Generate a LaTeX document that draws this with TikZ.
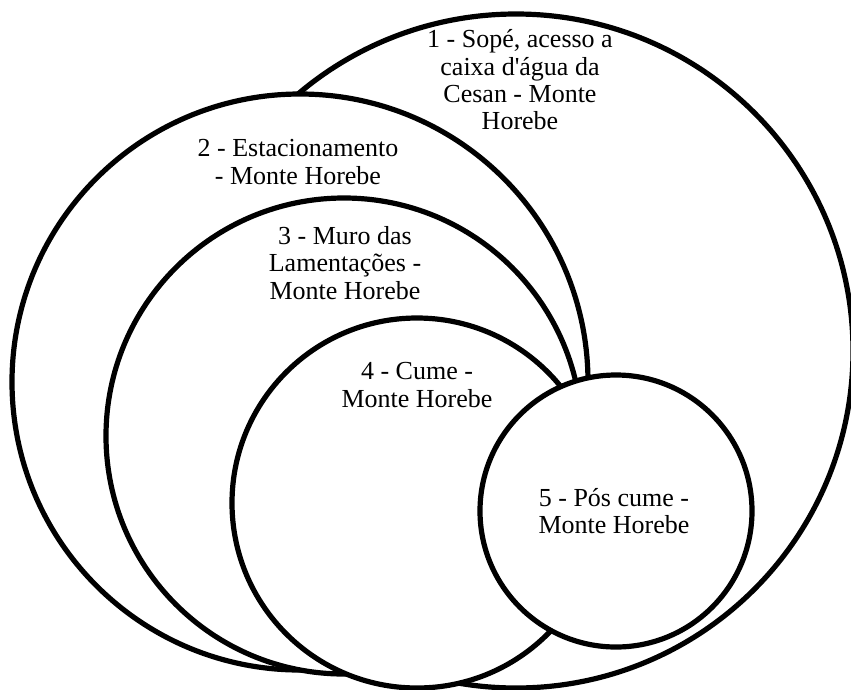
\documentclass[tikz,border=0pt]{standalone}
\usepackage{fontspec}
\setmainfont{Liberation Serif}
\tikzset{
  ring/.style={circle, draw=black, line width=5.2pt, fill=white, inner sep=0pt, outer sep=0pt},
  lbl/.style={align=center, inner sep=0pt, font=\fontsize{26}{27.3}\selectfont}
}
\begin{document}
\begin{tikzpicture}[x=1pt,y=-1pt]
\useasboundingbox (0,0) rectangle (851,689);
\clip (0,0) rectangle (851,689);
\node[ring, minimum size=674pt] (c1) at (516,351) {};
\node[ring, minimum size=576pt] (c2) at (300,382) {};
\node[ring, minimum size=476pt] (c3) at (344,436) {};
\node[ring, minimum size=370pt] (c4) at (417,503) {};
\node[ring, minimum size=272pt] (c5) at (616,511) {};
\node[lbl] (t1) at (520,80) {1 - Sopé, acesso a\\caixa d\textquotesingle água da\\Cesan - Monte\\Horebe};
\node[lbl] (t2) at (298,162) {2 - Estacionamento\\- Monte Horebe};
\node[lbl] (t3) at (345,263) {3 - Muro das\\Lamentações -\\Monte Horebe};
\node[lbl] (t4) at (417,385) {4 - Cume -\\Monte Horebe};
\node[lbl] (t5) at (614,511) {5 - Pós cume -\\Monte Horebe};
\end{tikzpicture}
\end{document}
